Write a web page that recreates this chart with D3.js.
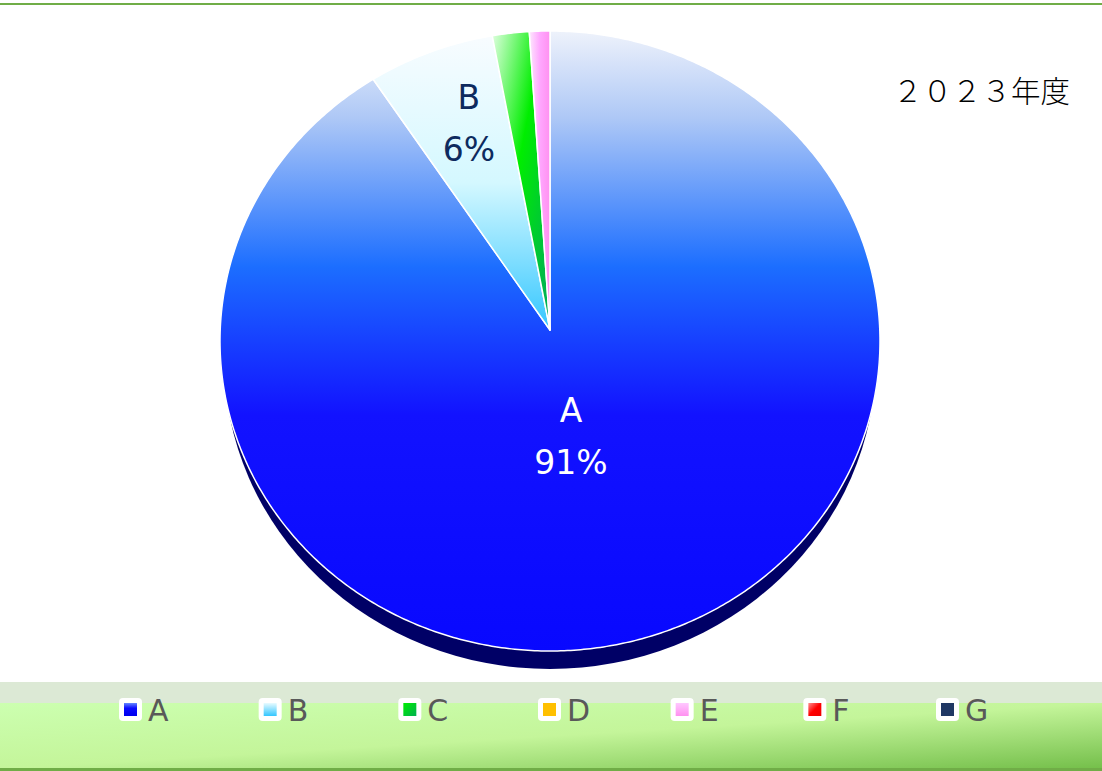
<!DOCTYPE html>
<html>
<head>
<meta charset="utf-8">
<script src="https://cdn.jsdelivr.net/npm/d3@7"></script>
<style>
  body { margin: 0; background: #fff; }
  svg { display: block; }
</style>
</head>
<body>
<div id="chart"></div>
<script>
const categories = ["A", "B", "C", "D", "E", "F", "G"]
const values = [91.0, 6.2, 1.8, 0, 1.0, 0, 0]
const title = "２０２３年度"

const width = 1102, height = 771
// pie face is a slightly tilted ellipse, apex sits a bit above its centre
const cx = 550, cy = 341, rx = 330, ry = 310, apexY = 330, depth = 18

const svg = d3.select("#chart").append("svg")
    .attr("width", width)
    .attr("height", height)

const defs = svg.append("defs")

function grad(id, stops, x1, y1, x2, y2) {
    const g = defs.append("linearGradient").attr("id", id)
        .attr("x1", x1).attr("y1", y1).attr("x2", x2).attr("y2", y2)
    stops.forEach(s => g.append("stop").attr("offset", s[0]).attr("stop-color", s[1]))
}

// slice fills
grad("g-A", [[0, "#eef2fb"], [0.14, "#aec8f6"], [0.38, "#1c6eff"], [0.62, "#1212ff"], [1, "#0808ff"]], 0, 0, 0, 1)
grad("g-B", [[0, "#f8fcff"], [0.5, "#d4f8ff"], [1, "#33c6ff"]], 0, 0, 0, 1)
grad("g-C", [[0, "#e0ffe0"], [0.45, "#00ee00"], [1, "#00a860"]], 0, 0, 1, 1)
grad("g-D", [[0, "#ffe080"], [1, "#ffc000"]], 0, 0, 0, 1)
grad("g-E", [[0, "#fde8fd"], [0.5, "#ffa8ff"], [1, "#ff90f0"]], 0, 0, 1, 0)
grad("g-F", [[0, "#ff9090"], [1, "#ff0000"]], 0, 0, 1, 1)
grad("g-G", [[0, "#405890"], [1, "#203864"]], 0, 0, 0, 1)
// legend swatches
grad("l-A", [[0, "#6688ff"], [0.4, "#0a0aff"], [1, "#0000ee"]], 0, 0, 0, 1)
grad("l-B", [[0, "#e8fbff"], [1, "#33c6ff"]], 0, 0, 0, 1)
grad("l-C", [[0, "#00ee00"], [1, "#00b050"]], 0, 0, 1, 1)
grad("l-D", [[0, "#ffc000"], [1, "#ffc000"]], 0, 0, 0, 1)
grad("l-E", [[0, "#ffc8ff"], [1, "#ff90f0"]], 0, 0, 0, 1)
grad("l-F", [[0, "#ff9090"], [0.5, "#ff0000"], [1, "#ee0000"]], 0, 0, 1, 1)
grad("l-G", [[0, "#203864"], [1, "#203864"]], 0, 0, 0, 1)
// legend band
grad("band", [[0, "#ccffb0"], [0.5, "#c4f59a"], [1, "#74bf4a"]], 0, 0, 1, 1)

// top border
svg.append("rect").attr("x", 0).attr("y", 3).attr("width", width).attr("height", 2).attr("fill", "#70ad47")

// legend band background
svg.append("rect").attr("x", 0).attr("y", 682).attr("width", width).attr("height", 21).attr("fill", "#dce9d5")
svg.append("rect").attr("x", 0).attr("y", 703).attr("width", width).attr("height", 66).attr("fill", "url(#band)")
svg.append("rect").attr("x", 0).attr("y", 768).attr("width", width).attr("height", 3).attr("fill", "#70ad47")

// pie
const data = categories.map((c, i) => ({ name: c, value: values[i] }))
const pie = d3.pie().sort(null).value(d => d.value)
const arcs = pie(data)

function rim(t) {
    return [cx + rx * Math.sin(t), cy - ry * Math.cos(t)]
}

function slicePath(a) {
    const p = d3.path()
    p.moveTo(cx, apexY)
    const n = Math.max(2, Math.ceil((a.endAngle - a.startAngle) / 0.01))
    for (let k = 0; k <= n; k++) {
        const t = a.startAngle + (a.endAngle - a.startAngle) * k / n
        const pt = rim(t)
        p.lineTo(pt[0], pt[1])
    }
    p.closePath()
    return p.toString()
}

// side (depth) of the pie
svg.append("ellipse")
    .attr("cx", cx).attr("cy", cy + depth)
    .attr("rx", rx - 4).attr("ry", ry)
    .attr("fill", "#000066")

const g = svg.append("g")

g.selectAll("path.slice")
    .data(arcs.filter(d => d.value > 0))
    .enter().append("path")
    .attr("class", "slice")
    .attr("d", slicePath)
    .attr("fill", d => `url(#g-${d.data.name})`)
    .attr("stroke", "#ffffff")
    .attr("stroke-width", 1.5)
    .attr("stroke-linejoin", "round")

// data labels (only for the larger slices)
const total = d3.sum(values)
const labelled = arcs.filter(d => d.value / total > 0.05)
labelled.forEach(d => {
    const big = d.value / total > 0.5
    const mid = (d.startAngle + d.endAngle) / 2
    const f = big ? 0.228 : 0.678
    const x = cx + rx * f * Math.sin(mid)
    const y = apexY - ry * f * Math.cos(mid)
    const off = big ? 24 : -25
    const col = big ? "#ffffff" : "#0d2a5e"
    g.append("text")
        .attr("x", x).attr("y", y + off)
        .attr("text-anchor", "middle")
        .attr("font-family", "'DejaVu Sans', Verdana, sans-serif")
        .attr("font-size", 33)
        .attr("fill", col)
        .text(d.data.name)
    g.append("text")
        .attr("x", x).attr("y", y + off + 52)
        .attr("text-anchor", "middle")
        .attr("font-family", "'DejaVu Sans', Verdana, sans-serif")
        .attr("font-size", 33)
        .attr("fill", col)
        .text(Math.round(d.value / total * 100) + "%")
})

// title
svg.append("text")
    .attr("x", 1070).attr("y", 102)
    .attr("text-anchor", "end")
    .attr("font-family", "'Noto Sans CJK JP', sans-serif")
    .attr("font-weight", 300)
    .attr("font-size", 29.5)
    .attr("fill", "#000")
    .text(title)

// legend
const legendX = d3.scaleLinear().domain([0, 3, categories.length - 1]).range([119, 538, 936])
const legend = svg.append("g").selectAll("g")
    .data(categories)
    .enter().append("g")
    .attr("transform", (d, i) => `translate(${legendX(i)},698)`)

legend.append("rect")
    .attr("width", 23).attr("height", 23)
    .attr("rx", 4)
    .attr("fill", "#ffffff")
legend.append("rect")
    .attr("x", 5).attr("y", 5)
    .attr("width", 13).attr("height", 13)
    .attr("fill", d => `url(#l-${d})`)
legend.append("text")
    .attr("x", 29).attr("y", 23)
    .attr("font-family", "'DejaVu Sans', Verdana, sans-serif")
    .attr("font-size", 30)
    .attr("fill", "#595959")
    .text(d => d)
</script>
</body>
</html>
